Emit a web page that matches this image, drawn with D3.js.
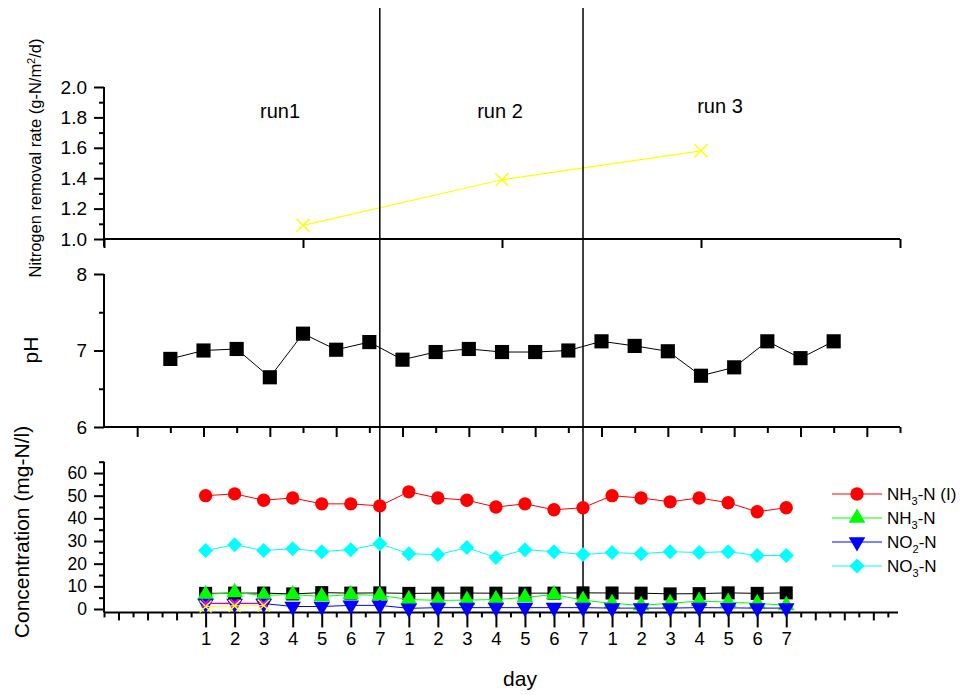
<!DOCTYPE html>
<html>
<head>
<meta charset="utf-8">
<script src="https://cdn.jsdelivr.net/npm/d3@7"></script>
<style>
  body { margin: 0; background: #fff; }
  svg { display: block; }
  text { font-family: "Liberation Sans", Arial, sans-serif; fill: #000; }
</style>
</head>
<body>
<svg id="chart" width="967" height="695"></svg>
<script>
// ---- data ----
const dayLabels = ["1","2","3","4","5","6","7","1","2","3","4","5","6","7","1","2","3","4","5","6","7"];
const runNames = ["run1", "run 2", "run 3"];
const runIndex = [1, 2, 3];
const removalRate = [1.09, 1.39, 1.58];
const phValues = [6.89, 7.00, 7.02, 6.65, 7.22, 7.01, 7.11, 6.88, 6.98, 7.02, 6.98, 6.98, 7.00, 7.12,
                  7.06, 6.99, 6.67, 6.78, 7.12, 6.90, 7.12];
const nh3Influent = [50.0, 50.8, 48.0, 49.0, 46.4, 46.4, 45.5, 51.7, 49.0, 48.0, 45.0, 46.4, 43.8, 44.7,
                     50.0, 49.0, 47.3, 49.0, 46.9, 42.9, 44.7];
const nh3Effluent = [6.4, 7.3, 6.0, 6.4, 5.5, 6.4, 6.0, 4.2, 3.8, 3.9, 4.2, 5.1, 6.4, 3.9,
                     2.5, 1.6, 2.5, 3.5, 3.0, 2.5, 1.6];
const no2Values = [2.4, 2.4, 2.4, 1.1, 1.1, 1.6, 1.6, 0.3, 0.6, 0.6, 0.6, 0.6, 0.6, 0.6,
                   0.4, 0.4, 0.4, 0.6, 0.5, 0.4, 0.4];
const no3Values = [25.8, 28.4, 25.8, 26.6, 25.3, 26.2, 28.8, 24.4, 24.0, 27.1, 22.7, 26.2, 25.3, 24.0,
                   24.9, 24.4, 25.3, 24.9, 25.3, 23.6, 23.6];
const auxValues = [2.5, 2.6, 2.5];
const legendNames = [["NH", "3", "-N (I)"], ["NH", "3", "-N"], ["NO", "2", "-N"], ["NO", "3", "-N"]];

const svg = d3.select("#chart");
const AX = 104;   // shared left axis position
const FONT = '"Liberation Sans", Arial, sans-serif';

// ---- scales ----
const xTop = d3.scaleLinear().domain([0, 4]).range([AX, 900]);
const yTop = d3.scaleLinear().domain([1.0, 2.0]).range([239, 87]);
const xPh = d3.scaleLinear().domain([0, 24]).range([AX, 900]);
const yPh = d3.scaleLinear().domain([6, 8]).range([427, 274]);
const xDay = d3.scaleLinear().domain([-3.5, 23.85]).range([AX, 898]);
const yConc = d3.scaleLinear().domain([-1.5, 65]).range([612.4, 461.7]);

const dayIdx = d3.range(dayLabels.length);

// ---- helpers ----
function leftTicks(scale, values, size, labels, fontSize) {
  const g = svg.append("g").attr("transform", `translate(${AX},0)`);
  g.call(d3.axisLeft(scale).tickValues(values).tickSize(size).tickPadding(7)
           .tickFormat(labels ? labels : () => ""));
  g.select(".domain").remove();
  g.selectAll("line").attr("stroke", "#000").attr("stroke-width", 2);
  g.selectAll("text").attr("font-size", fontSize).attr("fill", "#000").style("font-family", FONT);
  return g;
}
function bottomTicks(scale, y, values, size, labels, fontSize) {
  const g = svg.append("g").attr("transform", `translate(0,${y})`);
  g.call(d3.axisBottom(scale).tickValues(values).tickSize(size).tickPadding(4)
           .tickFormat(labels ? labels : () => ""));
  g.select(".domain").remove();
  g.selectAll("line").attr("stroke", "#000").attr("stroke-width", 2);
  g.selectAll("text").attr("font-size", fontSize).attr("fill", "#000").style("font-family", FONT);
  return g;
}
function axisLine(x1, y1, x2, y2) {
  svg.append("line").attr("x1", x1).attr("y1", y1).attr("x2", x2).attr("y2", y2)
    .attr("stroke", "#000").attr("stroke-width", 2);
}
const diamondPath = r => `M0,${-r}L${r},0L0,${r}L${-r},0Z`;

// ================= top panel: nitrogen removal rate =================
leftTicks(yTop, d3.range(1.1, 2.0, 0.2), 5, null, 19);
leftTicks(yTop, d3.range(1.0, 2.01, 0.2), 10, d3.format(".1f"), 19);
bottomTicks(xTop, yTop(1.0), [0, 1, 2, 3, 4], 9, null, 18);
axisLine(AX, yTop(0.95), AX, yTop(2.0));
axisLine(AX, yTop(1.0), xTop(4), yTop(1.0));

svg.append("path")
  .attr("d", d3.line().x((d, i) => xTop(runIndex[i])).y(d => yTop(d))(removalRate))
  .attr("fill", "none").attr("stroke", "#ffff00").attr("stroke-width", 1.2);
function drawX(g, cx, cy, r, color) {
  g.append("path").attr("d", `M${cx - r},${cy - r}L${cx + r},${cy + r}M${cx + r},${cy - r}L${cx - r},${cy + r}`)
    .attr("stroke", color).attr("stroke-width", 1.5).attr("fill", "none");
}
removalRate.forEach((d, i) => drawX(svg, xTop(runIndex[i]), yTop(d), 6.5, "#ffff00"));

runNames.forEach((name, i) => {
  const cx = [280, 500, 720][i], cy = [118, 118, 113][i];
  svg.append("text").attr("x", cx).attr("y", cy).attr("text-anchor", "middle")
    .attr("font-size", 20).text(name);
});

svg.append("text")
  .attr("transform", "translate(41,158) rotate(-90)")
  .attr("text-anchor", "middle").attr("font-size", 16.5)
  .call(t => {
    t.append("tspan").text("Nitrogen removal rate (g-N/m");
    t.append("tspan").attr("dy", -6).attr("font-size", 11).text("2");
    t.append("tspan").attr("dy", 6).text("/d)");
  });

// ================= middle panel: pH =================
leftTicks(yPh, [6.5, 7.5], 5, null, 19);
leftTicks(yPh, [6, 7, 8], 10, d3.format("d"), 19);
bottomTicks(xPh, yPh(6), d3.range(2, 25, 2), 6, null, 18);
bottomTicks(xPh, yPh(6), d3.range(1, 24, 2), 10, null, 18);
axisLine(AX, yPh(6), AX, yPh(8));
axisLine(AX, yPh(6), xPh(24), yPh(6));

svg.append("path")
  .attr("d", d3.line().x((d, i) => xPh(i + 2)).y(d => yPh(d))(phValues))
  .attr("fill", "none").attr("stroke", "#000").attr("stroke-width", 1);
svg.append("g").selectAll("path").data(phValues).join("path")
  .attr("transform", (d, i) => `translate(${xPh(i + 2)},${yPh(d)})`)
  .attr("d", d3.symbol(d3.symbolSquare, 200)).attr("fill", "#000");

svg.append("text")
  .attr("transform", "translate(38,350) rotate(-90)")
  .attr("text-anchor", "middle").attr("font-size", 21).text("pH");

// ================= bottom panel: concentrations =================
leftTicks(yConc, d3.range(5, 66, 10), 5, null, 17.5);
leftTicks(yConc, d3.range(0, 61, 10), 10, d3.format("d"), 17.5);
const halfTicks = d3.range(-3.5, 23.6, 0.5);
bottomTicks(xDay, yConc(-1.5), halfTicks.filter(v => !Number.isInteger(v)), 5, null, 18);
bottomTicks(xDay, yConc(-1.5), halfTicks.filter(v => Number.isInteger(v) && (v < 0 || v > 20)), 8, null, 18);
bottomTicks(xDay, yConc(-1.5), dayIdx, 15, i => dayLabels[i], 18.5);
axisLine(AX, yConc(-1.5), AX, yConc(65));
axisLine(AX, yConc(-1.5), xDay(23.85), yConc(-1.5));

svg.append("text")
  .attr("transform", "translate(29,532) rotate(-90)")
  .attr("text-anchor", "middle").attr("font-size", 21).text("Concentration (mg-N/l)");
svg.append("text").attr("x", 520).attr("y", 686).attr("text-anchor", "middle")
  .attr("font-size", 21).text("day");

// run separators
[6, 13].forEach(i => {
  svg.append("line").attr("x1", xDay(i)).attr("x2", xDay(i)).attr("y1", 8).attr("y2", yConc(-1.5))
    .attr("stroke", "#000").attr("stroke-width", 1.5);
});

const lineConc = d3.line().x((d, i) => xDay(i)).y(d => yConc(d));
function series(values, color, drawMarker) {
  svg.append("path").attr("d", lineConc(values)).attr("fill", "none")
    .attr("stroke", color).attr("stroke-width", 1);
  const g = svg.append("g");
  values.forEach((d, i) => drawMarker(g, xDay(i), yConc(d)));
}
const sym = (type, size, color, rot) => (g, x, y) =>
  g.append("path").attr("transform", `translate(${x},${y})${rot ? " rotate(180)" : ""}`)
    .attr("d", d3.symbol(type, size)).attr("fill", color);

series(phValues, "#000", sym(d3.symbolSquare, 170, "#000"));
series(nh3Influent, "#ff0000", sym(d3.symbolCircle, 140, "#ff0000"));
series(nh3Effluent, "#00ff00", sym(d3.symbolTriangle, 120, "#00ff00"));
series(no2Values, "#0000ff", sym(d3.symbolTriangle, 120, "#0000ff", true));
series(no3Values, "#00ffff", (g, x, y) =>
  g.append("path").attr("transform", `translate(${x},${y})`).attr("d", diamondPath(7.5)).attr("fill", "#00ffff"));
series(auxValues, "#ff00ff", (g, x, y) => drawX(g, x, y, 4, "#ff00ff"));
series(removalRate, "#ffff00", (g, x, y) => drawX(g, x, y, 6, "#ffff00"));

// ---- legend ----
const legendMarkers = [
  (g, x, y) => sym(d3.symbolCircle, 140, "#ff0000")(g, x, y),
  (g, x, y) => sym(d3.symbolTriangle, 120, "#00ff00")(g, x, y),
  (g, x, y) => sym(d3.symbolTriangle, 120, "#0000ff", true)(g, x, y),
  (g, x, y) => g.append("path").attr("transform", `translate(${x},${y})`).attr("d", diamondPath(7.5)).attr("fill", "#00ffff")
];
const legendColors = ["#ff0000", "#00ff00", "#0000ff", "#00ffff"];
const legend = svg.append("g");
legendNames.forEach((parts, i) => {
  const y = 494 + i * 24;
  legend.append("line").attr("x1", 832).attr("x2", 882).attr("y1", y).attr("y2", y)
    .attr("stroke", legendColors[i]).attr("stroke-width", 1);
  legendMarkers[i](legend, 857, y);
  const t = legend.append("text").attr("x", 887).attr("y", y + 6).attr("font-size", 17);
  t.append("tspan").text(parts[0]);
  t.append("tspan").attr("dy", 5).attr("font-size", 11).text(parts[1]);
  t.append("tspan").attr("dy", -5).text(parts[2]);
});
</script>
</body>
</html>
